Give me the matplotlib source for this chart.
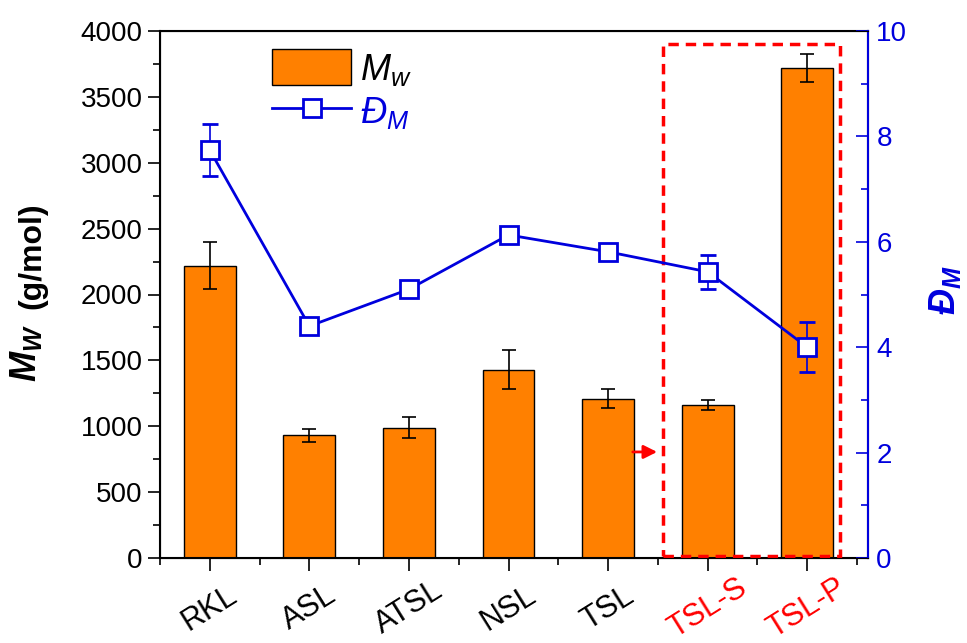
import matplotlib.pyplot as plt
import matplotlib.transforms as mtransforms
from matplotlib.patches import Rectangle
from matplotlib.lines import Line2D
from matplotlib.ticker import MultipleLocator

plt.rcParams['font.family'] = ['Liberation Sans', 'DejaVu Sans']
plt.rcParams['mathtext.fontset'] = 'custom'
plt.rcParams['mathtext.rm'] = 'Liberation Sans'
plt.rcParams['mathtext.it'] = 'Liberation Sans:italic'
plt.rcParams['mathtext.bf'] = 'Liberation Sans:bold'
plt.rcParams['mathtext.bfit'] = 'Liberation Sans:bold:italic'

# data
samples = ['RKL', 'ASL', 'ATSL', 'NSL', 'TSL', 'TSL-S', 'TSL-P']
label_colors = ['black', 'black', 'black', 'black', 'black', 'red', 'red']
mw = [2220, 930, 990, 1430, 1210, 1160, 3720]
mw_err = [175, 50, 80, 150, 70, 40, 105]
dm = [7.74, 4.40, 5.10, 6.13, 5.81, 5.43, 4.00]
dm_err = [0.50, 0.08, 0.08, 0.08, 0.08, 0.32, 0.48]

orange = '#ff8000'
blue = '#0000dd'

fig = plt.figure(figsize=(9.67, 6.43), dpi=100)
ax = fig.add_axes([160 / 967, 1 - 558 / 643, 708 / 967, 527 / 643])
x = list(range(len(samples)))

ax.bar(x, mw, width=0.52, color=orange, edgecolor='black', linewidth=1,
       yerr=mw_err, capsize=5, error_kw=dict(ecolor='black', elinewidth=1.2, capthick=1.2),
       zorder=2)
ax.set_xlim(-0.5, 6.61)
ax.set_ylim(0, 4000)
ax.yaxis.set_major_locator(MultipleLocator(500))
ax.yaxis.set_minor_locator(MultipleLocator(250))
ax.set_xticks(x)
ax.xaxis.set_minor_locator(MultipleLocator(1, offset=0.5))
ax.set_xticklabels(samples, rotation=32, ha='center', va='center', rotation_mode='anchor')
shift = mtransforms.ScaledTranslation(4 / 100, 0, fig.dpi_scale_trans)
for lbl, c in zip(ax.get_xticklabels(), label_colors):
    lbl.set_color(c)
    lbl.set_transform(lbl.get_transform() + shift)
ax.tick_params(axis='both', which='major', direction='out', length=9, width=1.2, labelsize=20)
ax.tick_params(axis='x', which='major', labelsize=22, pad=27)
ax.tick_params(axis='both', which='minor', direction='out', length=5, width=1.2)
for s in ax.spines.values():
    s.set_linewidth(1.5)

# y label: big M_W plus smaller unit
fig.text(0.027, 0.451, r'$\mathbfit{M}_{\mathbfit{W}}$', fontsize=26, rotation=90,
         ha='center', va='center')
fig.text(0.033, 0.603, '(g/mol)', fontsize=23, fontweight='bold', rotation=90,
         ha='center', va='center')

# highlight box and arrow
ax.add_patch(Rectangle((4.55, 15), 6.33 - 4.55, 3885, fill=False, edgecolor='red',
                       linestyle=(0, (3, 2)), linewidth=2.5, zorder=5))
ax.annotate('', xy=(4.52, 805), xytext=(4.22, 805),
            arrowprops=dict(arrowstyle='-|>', color='red', lw=2, mutation_scale=20))

ax2 = ax.twinx()
ax2.errorbar(x, dm, yerr=dm_err, color=blue, linewidth=2, marker='s', markersize=13,
             markerfacecolor='white', markeredgecolor=blue, markeredgewidth=2,
             capsize=6, elinewidth=1.2, capthick=1.2, zorder=4)
ax2.set_ylim(0, 10)
ax2.yaxis.set_major_locator(MultipleLocator(2))
ax2.yaxis.set_minor_locator(MultipleLocator(1))
ax2.tick_params(axis='y', which='major', direction='in', length=9, width=1.2, labelsize=20,
                colors=blue, pad=6)
ax2.tick_params(axis='y', which='minor', direction='in', length=5, width=1.2, colors=blue)
ax2.spines['right'].set_color(blue)
ax2.spines['right'].set_linewidth(1.5)
fig.text(945 / 967, 1 - 290 / 643, r'$\mathbfit{Đ}_{\mathbfit{M}}$', fontsize=26, color=blue,
         rotation=90, ha='center', va='center')

h_bar = Rectangle((0, 0), 1, 1, facecolor=orange, edgecolor='black', linewidth=1)
h_line = Line2D([], [], color=blue, linewidth=2, marker='s', markersize=13,
                markerfacecolor='white', markeredgecolor=blue, markeredgewidth=2)
leg = ax2.legend([h_bar, h_line], [r'$\mathit{M}_{\mathit{w}}$', r'$\mathit{Đ}_{\mathit{M}}$'],
                 loc='upper left', bbox_to_anchor=(0.158, 0.965), frameon=False,
                 borderpad=0, borderaxespad=0,
                 fontsize=26, handlelength=2.2, handleheight=1.15, labelspacing=0.15, handletextpad=0.25)
leg.get_texts()[1].set_color(blue)

fig.savefig('out.png', dpi=100)
